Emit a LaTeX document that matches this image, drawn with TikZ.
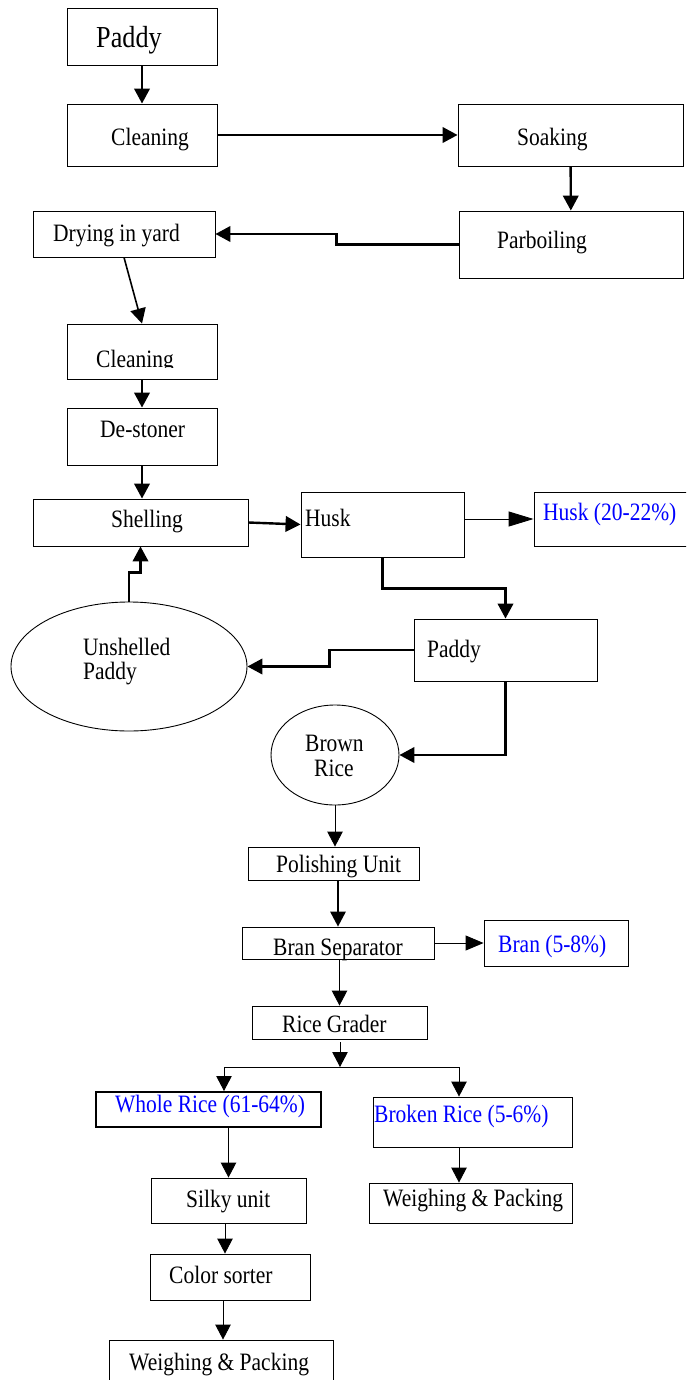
\documentclass[tikz,border=0pt]{standalone}
\usepackage{fontspec}
\setmainfont{Liberation Serif}[FakeStretch=0.86]
\usetikzlibrary{arrows.meta,shapes.geometric,fit}
\begin{document}
\begin{tikzpicture}[x=1pt,y=-1pt,
  box/.style={draw, line width=0.9pt, inner sep=0pt, fit={#1}},
  oval/.style={draw, ellipse, line width=0.9pt, inner sep=0pt},
  txt/.style={inner sep=0pt, anchor=base west, font=\fontsize{25}{29}\selectfont},
  btxt/.style={txt, text=blue},
  arr/.style={-{Triangle[length=15pt,width=15.5pt]}, line width=0.9pt},
  tarr/.style={arr, line width=2.4pt},
  marr/.style={arr, line width=1.6pt}]
\useasboundingbox (0,0) rectangle (686,1380);
\clip (0,0) rectangle (686,1380);
\fill[white] (0,0) rectangle (686,1380);

% boxes
\node[box={(67,8) (217,65)}] (paddy) {};
\node[box={(67,104) (217,166)}] (clean1) {};
\node[box={(458,104) (683,166)}] (soak) {};
\node[box={(459,211) (683,278)}] (parb) {};
\node[box={(33,211) (215,257)}] (dry) {};
\node[box={(67,324) (217,379)}] (clean2) {};
\node[box={(67,408) (217,465)}] (dest) {};
\node[box={(33,499) (248,546)}] (shell) {};
\node[box={(301,492) (464,557)}] (husk) {};
\node[box={(534,492) (700,546)}] (huskp) {};
\node[box={(414,619) (597,681)}] (paddy2) {};
\node[oval, minimum width=236pt, minimum height=129pt] (unsh) at (129,666.5) {};
\node[oval, minimum width=128pt, minimum height=100pt] (brown) at (335,755) {};
\node[box={(248,847) (419,880)}] (polish) {};
\node[box={(242,927) (434,959)}] (bransep) {};
\node[box={(484,920) (628,966)}] (bran) {};
\node[box={(252,1006) (427,1039)}] (grader) {};
\node[box={(96,1092) (321,1127)}, line width=2pt] (whole) {};
\node[box={(373,1097) (572,1147)}] (broken) {};
\node[box={(151,1178) (306,1223)}] (silky) {};
\node[box={(150,1254) (310,1300)}] (color) {};
\node[box={(369,1183) (572,1223)}] (wpr) {};
\node[box={(109,1340) (333,1390)}] (wpb) {};

% texts
\node[txt, font=\fontsize{30.5}{34}\selectfont] (tpaddy) at (96,48) {Paddy};
\node[txt] (tclean1) at (111,146) {Cleaning};
\node[txt] (tsoak) at (517,146) {Soaking};
\node[txt] (tparb) at (497,248) {Parboiling};
\node[txt] (tdry) at (53,241) {Drying in yard};
\begin{scope}
\clip (67,324) rectangle (217,367.5);
\node[txt] (tclean2) at (96,367) {Cleaning};
\end{scope}
\node[txt] (tdest) at (100,437) {De-stoner};
\node[txt] (tshell) at (111,527) {Shelling};
\node[txt] (thusk) at (305,526) {Husk};
\node[btxt] (thuskp) at (543,520) {Husk (20-22\%)};
\node[txt] (tunsh1) at (83,655) {Unshelled};
\node[txt] (tunsh2) at (83,679) {Paddy};
\node[txt] (tpaddy2) at (427,657) {Paddy};
\node[txt] (tbrown1) at (305,751) {Brown};
\node[txt] (tbrown2) at (314,776) {Rice};
\node[txt] (tpolish) at (276,872) {Polishing Unit};
\node[txt] (tbransep) at (273,955) {Bran Separator};
\node[btxt] (tbran) at (498,952) {Bran (5-8\%)};
\node[txt] (tgrader) at (282,1032) {Rice Grader};
\node[btxt] (twhole) at (115,1112) {Whole Rice (61-64\%)};
\node[btxt] (tbroken) at (374,1122) {Broken Rice (5-6\%)};
\node[txt] (tsilky) at (186,1207) {Silky unit};
\node[txt] (tcolor) at (169,1283) {Color sorter};
\node[txt] (twpr) at (383,1206) {Weighing \& Packing};
\node[txt] (twpb) at (129,1370) {Weighing \& Packing};

% connectors
\draw[tarr] (paddy) -- (clean1);
\draw[tarr] (clean1) -- (soak);
\draw[tarr] (soak) -- (parb);
\draw[tarr] (parb.west) -- ++(-122,0) |- (dry.east);
\draw[marr] (dry.south) -- (clean2.north);
\draw[tarr] (clean2) -- (dest);
\draw[tarr] (dest.south) -- (dest.south |- shell.north);
\draw[tarr] (shell.east) -- (husk.west);
\draw[arr, -{Triangle[length=25pt,width=15pt]}] (husk.east |- huskp.west) -- (huskp.west);
\draw[tarr] (husk.south) -- ++(0,31) -| (paddy2.north);
\draw[tarr] (paddy2.west) -- ++(-84,0) |- (unsh.east);
\draw[tarr] (paddy2.south) |- (brown.east);
\draw[tarr] (unsh.north) -- ++(0,-29) -| (shell.south);
\draw[arr] (brown.south) -- (brown.south |- polish.north);
\draw[marr] (bransep.north |- polish.south) -- (bransep.north);
\draw[arr, -{Triangle[length=18pt,width=15pt]}] (bransep.east) -- (bran.west);
\draw[arr] (grader.north |- bransep.south) -- (grader.north);
\coordinate (split) at (340,1067);
\coordinate (sl) at (224,1067);
\coordinate (sr) at (459,1067);
\draw[arr] ([yshift=-3pt]grader.south -| split) -- (split);
\draw[line width=0.9pt] (sl) -- (sr);
\draw[arr] (sl) -- (sl |- whole.north);
\draw[arr] (sr) -- (sr |- broken.north);
\draw[arr] (silky.north |- whole.south) -- (silky.north);
\draw[arr] ([xshift=-3.5pt]silky.south) -- ([xshift=-3.5pt]silky.south |- color.north);
\draw[arr] ([xshift=-7pt]color.south) -- ([xshift=-7pt]color.south |- wpb.north);
\draw[arr] (sr |- broken.south) -- (sr |- wpr.north);
\end{tikzpicture}
\end{document}
